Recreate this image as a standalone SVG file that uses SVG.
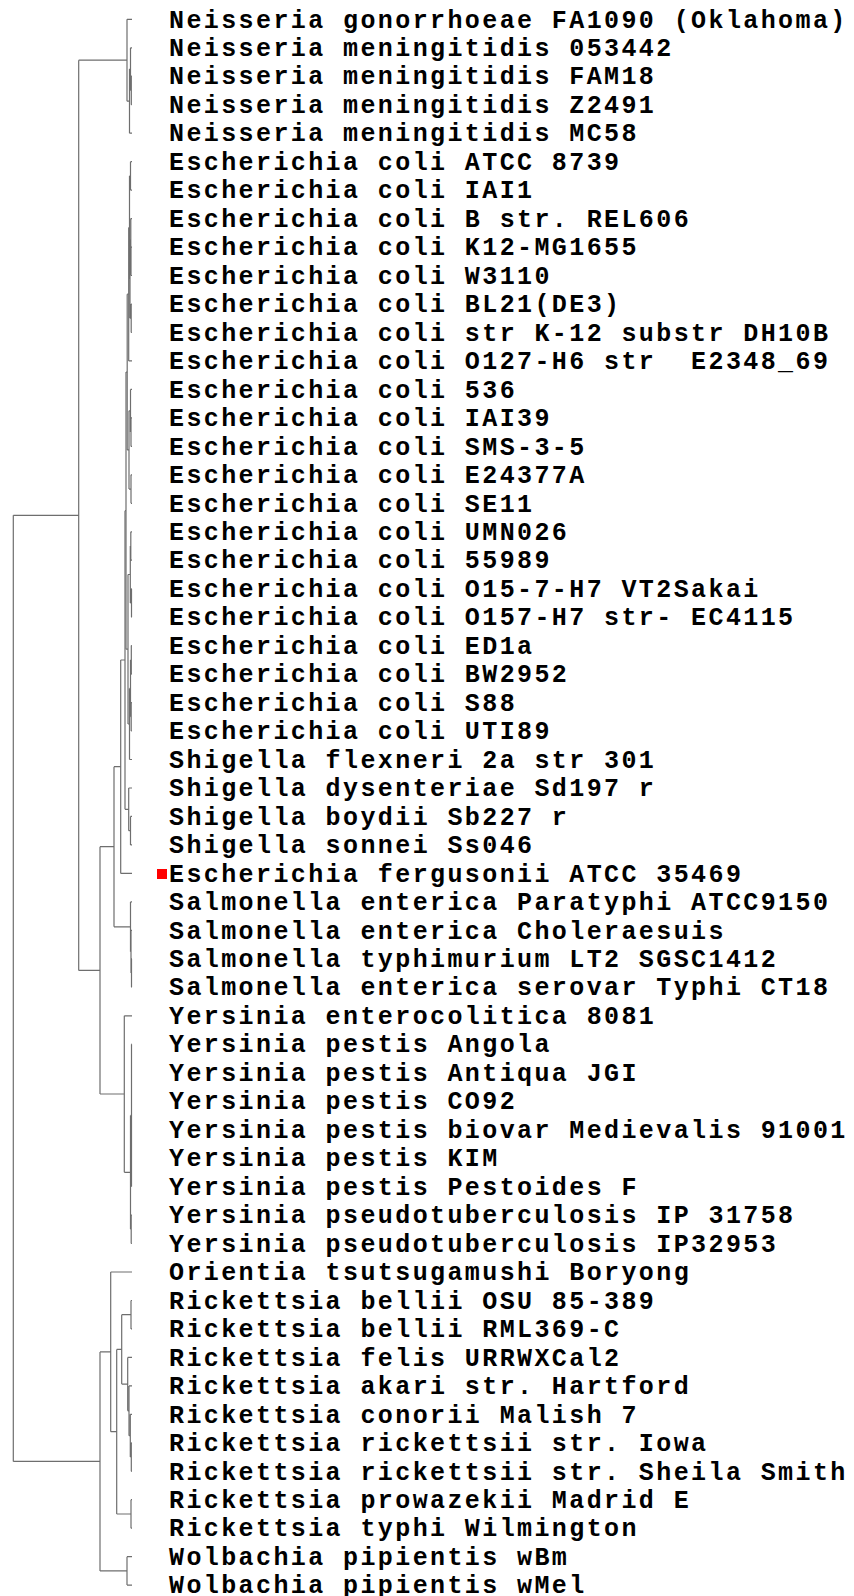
<svg xmlns="http://www.w3.org/2000/svg" width="854" height="1596" viewBox="0 0 854 1596">
<style>
.t{font-family:"Liberation Mono","DejaVu Sans Mono",monospace;font-size:25px;letter-spacing:2.4px;font-weight:bold;fill:#000;white-space:pre}
.e{fill:none;stroke:#6e6e6e;stroke-width:1.2}
</style>
<rect width="854" height="1596" fill="#fff"/>
<g id="connectors" class="e">
<path d="M131.3,76.2V104.7M131.3,76.2H132M131.3,104.7H132M130.5,47.8V90.45M130.5,47.8H132M130.5,90.45H131.3M129.5,69.1V133.2M129.5,69.1H130.5M129.5,133.2H132M127,19.3V101.15M127,19.3H132M127,101.15H129.5"/>
<path d="M78.7,60.2V970.4M78.7,60.2H127M78.7,970.4H100M13.3,515.3V1461.4M13.3,515.3H78.7M13.3,1461.4H100"/>
<path d="M130.5,161.65V190.1M130.5,161.65H132M130.5,190.1H132M131,247.1V275.5M131,247.1H132M131,275.5H132M130.8,218.6V261.3M130.8,218.6H132M130.8,261.3H131M131.2,304V332.5M131.2,304H132M131.2,332.5H132M130,240V318.2M130,240H130.8M130,318.2H131.2M129.5,175.9V279.1M129.5,175.9H130.5M129.5,279.1H130M128.7,227.5V360.9M128.7,227.5H129.5M128.7,360.9H132"/>
<path d="M131,417.9V446.4M131,417.9H132M131,446.4H132M130.5,389.4V432.1M130.5,389.4H132M130.5,432.1H131M131,474.8V503.3M131,474.8H132M131,503.3H132M129,410.8V489.1M129,410.8H130.5M129,489.1H131M127.2,294.2V449.9M127.2,294.2H128.7M127.2,449.9H129"/>
<path d="M130.8,531.8V560.2M130.8,531.8H132M130.8,560.2H132M131.5,588.7V617.2M131.5,588.7H132M131.5,617.2H132M130.3,546V602.9M130.3,546H130.8M130.3,602.9H131.5M131.3,645.6V674.1M131.3,645.6H132M131.3,674.1H132M131.2,702.6V731M131.2,702.6H132M131.2,731H132M130.5,659.9V716.8M130.5,659.9H131.3M130.5,716.8H131.2M129.5,688.4V759.5M129.5,688.4H130.5M129.5,759.5H132M128,574.5V724M128,574.5H130.3M128,724H129.5M126,372.1V649.2M126,372.1H127.2M126,649.2H128"/>
<path d="M130.5,816.4V844.9M130.5,816.4H132M130.5,844.9H132M128.7,788V830.7M128.7,788H132M128.7,830.7H130.5M125,510.7V809.3M125,510.7H126M125,809.3H128.7M120.7,660V873.4M120.7,660H125M120.7,873.4H132"/>
<path d="M131.5,958.8V987.2M131.5,958.8H132M131.5,987.2H132M131,930.3V973M131,930.3H132M131,973H131.5M130.5,901.9V951.7M130.5,901.9H132M130.5,951.7H131M114,766.7V926.8M114,766.7H120.7M114,926.8H130.5"/>
<path d="M131.5,1044.2V1186.5M131.5,1044.2H132M131.5,1072.7H132M131.5,1101.2H132M131.5,1129.6H132M131.5,1158.1H132M131.5,1186.5H132M131.2,1215V1243.5M131.2,1215H132M131.2,1243.5H132M130.5,1115.4V1229.2M130.5,1115.4H131.5M130.5,1229.2H131.2M124.3,1015.8V1172.3M124.3,1015.8H132M124.3,1172.3H130.5M100,846.7V1094M100,846.7H114M100,1094H124.3"/>
<path d="M131,1300.5V1328.9M131,1300.5H132M131,1328.9H132M131.3,1442.8V1471.3M131.3,1442.8H132M131.3,1471.3H132M130.3,1414.3V1457M130.3,1414.3H132M130.3,1457H131.3M129,1385.9V1435.7M129,1385.9H132M129,1435.7H130.3M127.7,1357.4V1410.8M127.7,1357.4H132M127.7,1410.8H129M121.7,1314.7V1384.1M121.7,1314.7H131M121.7,1384.1H127.7"/>
<path d="M131,1499.7V1528.2M131,1499.7H132M131,1528.2H132M116.7,1349.4V1514M116.7,1349.4H121.7M116.7,1514H131M110.7,1272V1431.7M110.7,1272H132M110.7,1431.7H116.7M127,1556.7V1585.1M127,1556.7H132M127,1585.1H132M100,1351.9V1570.9M100,1351.9H110.7M100,1570.9H127"/>
</g>
<g id="marker30"><rect x="157" y="869" width="10" height="10" fill="#ff0000"/></g>
<g transform="translate(0,-0.7)">
<g id="leaf0"><text class="t" x="169" y="28.3">Neisseria gonorrhoeae FA1090 (Oklahoma)</text></g>
<g id="leaf1"><text class="t" x="169" y="56.8">Neisseria meningitidis 053442</text></g>
<g id="leaf2"><text class="t" x="169" y="85.2">Neisseria meningitidis FAM18</text></g>
<g id="leaf3"><text class="t" x="169" y="113.7">Neisseria meningitidis Z2491</text></g>
<g id="leaf4"><text class="t" x="169" y="142.2">Neisseria meningitidis MC58</text></g>
<g id="leaf5"><text class="t" x="169" y="170.6">Escherichia coli ATCC 8739</text></g>
<g id="leaf6"><text class="t" x="169" y="199.1">Escherichia coli IAI1</text></g>
<g id="leaf7"><text class="t" x="169" y="227.6">Escherichia coli B str. REL606</text></g>
<g id="leaf8"><text class="t" x="169" y="256.1">Escherichia coli K12-MG1655</text></g>
<g id="leaf9"><text class="t" x="169" y="284.5">Escherichia coli W3110</text></g>
<g id="leaf10"><text class="t" x="169" y="313.0">Escherichia coli BL21(DE3)</text></g>
<g id="leaf11"><text class="t" x="169" y="341.5">Escherichia coli str K-12 substr DH10B</text></g>
<g id="leaf12"><text class="t" x="169" y="369.9">Escherichia coli O127-H6 str  E2348_69</text></g>
<g id="leaf13"><text class="t" x="169" y="398.4">Escherichia coli 536</text></g>
<g id="leaf14"><text class="t" x="169" y="426.9">Escherichia coli IAI39</text></g>
<g id="leaf15"><text class="t" x="169" y="455.4">Escherichia coli SMS-3-5</text></g>
<g id="leaf16"><text class="t" x="169" y="483.8">Escherichia coli E24377A</text></g>
<g id="leaf17"><text class="t" x="169" y="512.3">Escherichia coli SE11</text></g>
<g id="leaf18"><text class="t" x="169" y="540.8">Escherichia coli UMN026</text></g>
<g id="leaf19"><text class="t" x="169" y="569.2">Escherichia coli 55989</text></g>
<g id="leaf20"><text class="t" x="169" y="597.7">Escherichia coli O15-7-H7 VT2Sakai</text></g>
<g id="leaf21"><text class="t" x="169" y="626.2">Escherichia coli O157-H7 str- EC4115</text></g>
<g id="leaf22"><text class="t" x="169" y="654.6">Escherichia coli ED1a</text></g>
<g id="leaf23"><text class="t" x="169" y="683.1">Escherichia coli BW2952</text></g>
<g id="leaf24"><text class="t" x="169" y="711.6">Escherichia coli S88</text></g>
<g id="leaf25"><text class="t" x="169" y="740.0">Escherichia coli UTI89</text></g>
<g id="leaf26"><text class="t" x="169" y="768.5">Shigella flexneri 2a str 301</text></g>
<g id="leaf27"><text class="t" x="169" y="797.0">Shigella dysenteriae Sd197 r</text></g>
<g id="leaf28"><text class="t" x="169" y="825.4">Shigella boydii Sb227 r</text></g>
<g id="leaf29"><text class="t" x="169" y="853.9">Shigella sonnei Ss046</text></g>
<g id="leaf30"><text class="t" x="169" y="882.4">Escherichia fergusonii ATCC 35469</text></g>
<g id="leaf31"><text class="t" x="169" y="910.9">Salmonella enterica Paratyphi ATCC9150</text></g>
<g id="leaf32"><text class="t" x="169" y="939.3">Salmonella enterica Choleraesuis</text></g>
<g id="leaf33"><text class="t" x="169" y="967.8">Salmonella typhimurium LT2 SGSC1412</text></g>
<g id="leaf34"><text class="t" x="169" y="996.2">Salmonella enterica serovar Typhi CT18</text></g>
<g id="leaf35"><text class="t" x="169" y="1024.8">Yersinia enterocolitica 8081</text></g>
<g id="leaf36"><text class="t" x="169" y="1053.2">Yersinia pestis Angola</text></g>
<g id="leaf37"><text class="t" x="169" y="1081.7">Yersinia pestis Antiqua JGI</text></g>
<g id="leaf38"><text class="t" x="169" y="1110.2">Yersinia pestis CO92</text></g>
<g id="leaf39"><text class="t" x="169" y="1138.6">Yersinia pestis biovar Medievalis 91001</text></g>
<g id="leaf40"><text class="t" x="169" y="1167.1">Yersinia pestis KIM</text></g>
<g id="leaf41"><text class="t" x="169" y="1195.5">Yersinia pestis Pestoides F</text></g>
<g id="leaf42"><text class="t" x="169" y="1224.0">Yersinia pseudotuberculosis IP 31758</text></g>
<g id="leaf43"><text class="t" x="169" y="1252.5">Yersinia pseudotuberculosis IP32953</text></g>
<g id="leaf44"><text class="t" x="169" y="1281.0">Orientia tsutsugamushi Boryong</text></g>
<g id="leaf45"><text class="t" x="169" y="1309.5">Rickettsia bellii OSU 85-389</text></g>
<g id="leaf46"><text class="t" x="169" y="1337.9">Rickettsia bellii RML369-C</text></g>
<g id="leaf47"><text class="t" x="169" y="1366.4">Rickettsia felis URRWXCal2</text></g>
<g id="leaf48"><text class="t" x="169" y="1394.9">Rickettsia akari str. Hartford</text></g>
<g id="leaf49"><text class="t" x="169" y="1423.3">Rickettsia conorii Malish 7</text></g>
<g id="leaf50"><text class="t" x="169" y="1451.8">Rickettsia rickettsii str. Iowa</text></g>
<g id="leaf51"><text class="t" x="169" y="1480.3">Rickettsia rickettsii str. Sheila Smith</text></g>
<g id="leaf52"><text class="t" x="169" y="1508.7">Rickettsia prowazekii Madrid E</text></g>
<g id="leaf53"><text class="t" x="169" y="1537.2">Rickettsia typhi Wilmington</text></g>
<g id="leaf54"><text class="t" x="169" y="1565.7">Wolbachia pipientis wBm</text></g>
<g id="leaf55"><text class="t" x="169" y="1594.1">Wolbachia pipientis wMel</text></g>
</g>
</svg>
